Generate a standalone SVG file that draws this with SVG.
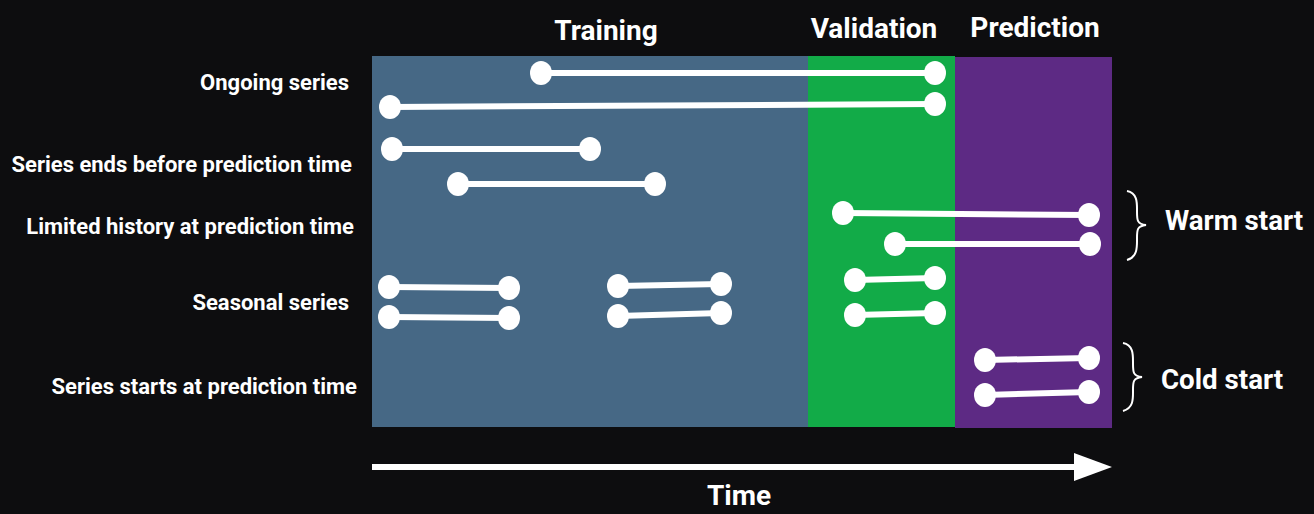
<svg xmlns="http://www.w3.org/2000/svg" width="1314" height="514" viewBox="0 0 1314 514">
<style>
.lbl{font-family:Roboto,"Liberation Sans",sans-serif;font-weight:700;fill:#fff;font-size:22px;text-anchor:end}
.hd{font-family:Roboto,"Liberation Sans",sans-serif;font-weight:700;fill:#fff;font-size:28px;text-anchor:middle}
.side{font-family:Roboto,"Liberation Sans",sans-serif;font-weight:700;fill:#fff;font-size:27.7px}
.ln{stroke:#fff;stroke-width:6;fill:none}
.dot{fill:#fff}
.br{stroke:#fff;stroke-width:2;fill:none}
</style>
<rect width="1314" height="514" fill="#0d0d0f"/>
<g id="phases">
<rect id="training" x="372" y="56" width="436" height="371" fill="#466885"/>
<rect id="validation" x="808" y="56" width="147" height="371" fill="#12ab48"/>
<rect id="prediction" x="955" y="57" width="157" height="371" fill="#5d2a84"/>
</g>
<g id="headings">
<text class="hd" x="606" y="40">Training</text>
<text class="hd" x="874" y="38">Validation</text>
<text class="hd" x="1035" y="37">Prediction</text>
</g>
<g id="labels">
<text class="lbl" x="349" y="90">Ongoing series</text>
<text class="lbl" x="352" y="172">Series ends before prediction time</text>
<text class="lbl" x="354" y="234">Limited history at prediction time</text>
<text class="lbl" x="349" y="310">Seasonal series</text>
<text class="lbl" x="357" y="394">Series starts at prediction time</text>
</g>
<g id="connectors">
<line class="ln" x1="541" y1="73" x2="935" y2="73"/>
<line class="ln" x1="390" y1="107" x2="935" y2="104"/>
<line class="ln" x1="392" y1="149" x2="590" y2="149"/>
<line class="ln" x1="458" y1="184" x2="655" y2="184"/>
<line class="ln" x1="843" y1="213" x2="1089" y2="215"/>
<line class="ln" x1="895" y1="244" x2="1090" y2="244"/>
<line class="ln" x1="389" y1="287" x2="509" y2="288"/>
<line class="ln" x1="389" y1="317" x2="509" y2="318"/>
<line class="ln" x1="618" y1="286" x2="721" y2="284"/>
<line class="ln" x1="618" y1="316" x2="721" y2="313"/>
<line class="ln" x1="855" y1="280" x2="935" y2="278"/>
<line class="ln" x1="855" y1="315" x2="935" y2="313"/>
<line class="ln" x1="985" y1="360" x2="1089" y2="358"/>
<line class="ln" x1="985" y1="395" x2="1089" y2="392"/>
<line class="ln" x1="372" y1="467" x2="1078" y2="467"/>
<polygon points="1074,453 1112,467 1074,481" fill="#fff"/>
</g>
<g id="dots">
<ellipse class="dot" cx="541" cy="73" rx="11" ry="12"/>
<ellipse class="dot" cx="935" cy="73" rx="11" ry="12"/>
<ellipse class="dot" cx="390" cy="107" rx="11" ry="12"/>
<ellipse class="dot" cx="935" cy="104" rx="11" ry="12"/>
<ellipse class="dot" cx="392" cy="149" rx="11" ry="12"/>
<ellipse class="dot" cx="590" cy="149" rx="11" ry="12"/>
<ellipse class="dot" cx="458" cy="184" rx="11" ry="12"/>
<ellipse class="dot" cx="655" cy="184" rx="11" ry="12"/>
<ellipse class="dot" cx="843" cy="213" rx="11" ry="12"/>
<ellipse class="dot" cx="1089" cy="215" rx="11" ry="12"/>
<ellipse class="dot" cx="895" cy="244" rx="11" ry="12"/>
<ellipse class="dot" cx="1090" cy="244" rx="11" ry="12"/>
<ellipse class="dot" cx="389" cy="287" rx="11" ry="12"/>
<ellipse class="dot" cx="509" cy="288" rx="11" ry="12"/>
<ellipse class="dot" cx="389" cy="317" rx="11" ry="12"/>
<ellipse class="dot" cx="509" cy="318" rx="11" ry="12"/>
<ellipse class="dot" cx="618" cy="286" rx="11" ry="12"/>
<ellipse class="dot" cx="721" cy="284" rx="11" ry="12"/>
<ellipse class="dot" cx="618" cy="316" rx="11" ry="12"/>
<ellipse class="dot" cx="721" cy="313" rx="11" ry="12"/>
<ellipse class="dot" cx="855" cy="280" rx="11" ry="12"/>
<ellipse class="dot" cx="935" cy="278" rx="11" ry="12"/>
<ellipse class="dot" cx="855" cy="315" rx="11" ry="12"/>
<ellipse class="dot" cx="935" cy="313" rx="11" ry="12"/>
<ellipse class="dot" cx="985" cy="360" rx="11" ry="12"/>
<ellipse class="dot" cx="1089" cy="358" rx="11" ry="12"/>
<ellipse class="dot" cx="985" cy="395" rx="11" ry="12"/>
<ellipse class="dot" cx="1089" cy="392" rx="11" ry="12"/>
</g>
<g id="warm-start">
<path class="br" d="M1127,191 C1138,193 1137,204 1137,212 C1137,220 1137,224 1146,225 C1137,226 1137,230 1137,238 C1137,246 1138,257 1127,260"/>
<text class="side" x="1165" y="230">Warm start</text>
</g>
<g id="cold-start">
<path class="br" d="M1123,343 C1134,345 1133,356 1133,364 C1133,372 1133,376 1142,377 C1133,378 1133,382 1133,390 C1133,398 1134,408 1123,411"/>
<text class="side" x="1161" y="389">Cold start</text>
</g>
<text class="hd" x="739" y="505">Time</text>
</svg>
